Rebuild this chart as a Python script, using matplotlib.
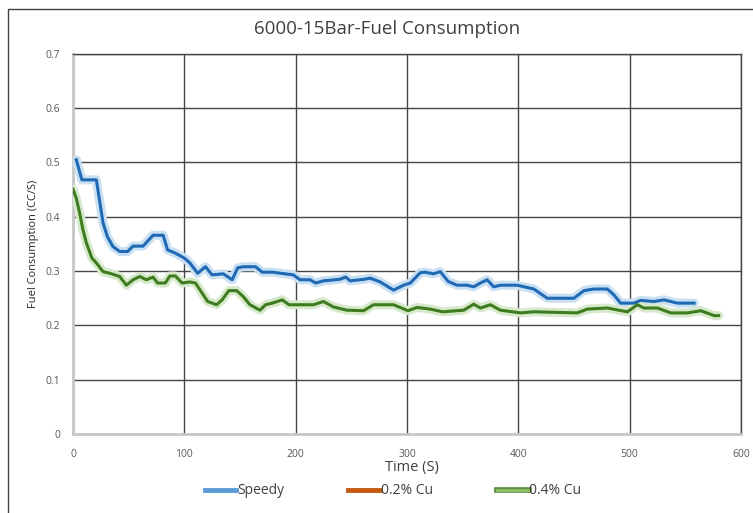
import matplotlib.pyplot as plt
import matplotlib.patheffects as pe
from matplotlib.patches import Rectangle
from matplotlib.lines import Line2D

plt.rcParams['font.family'] = ['Open Sans', 'DejaVu Sans']

# =========================
# DATA
# =========================
speedy_t = [3, 8, 21, 27, 31, 36, 42, 49, 54, 63, 72, 81, 85, 92, 100, 105, 112,
            119, 125, 135, 143, 148, 153, 164, 170, 179, 198, 204, 213, 218, 225,
            240, 245, 249, 262, 267, 276, 288, 297, 303, 312, 316, 324, 330, 337,
            345, 354, 360, 366, 372, 378, 384, 399, 414, 426, 450, 459, 468, 480,
            486, 492, 504, 510, 522, 531, 543, 558]
speedy_fc = [0.505, 0.468, 0.468, 0.389, 0.363, 0.345, 0.336, 0.336, 0.346, 0.346,
             0.366, 0.366, 0.339, 0.333, 0.324, 0.315, 0.296, 0.308, 0.293, 0.295,
             0.284, 0.306, 0.308, 0.308, 0.298, 0.298, 0.293, 0.284, 0.284, 0.278,
             0.282, 0.285, 0.289, 0.282, 0.285, 0.287, 0.280, 0.265, 0.274, 0.278,
             0.297, 0.298, 0.295, 0.299, 0.281, 0.274, 0.274, 0.271, 0.278, 0.284,
             0.271, 0.274, 0.274, 0.267, 0.250, 0.250, 0.264, 0.267, 0.267, 0.256,
             0.241, 0.241, 0.246, 0.244, 0.247, 0.241, 0.241]

cu02_t = []
cu02_fc = []

cu04_t = [0, 3, 6, 9, 12, 17, 21, 27, 33, 42, 48, 54, 60, 66, 72, 76, 83, 87, 92,
          98, 105, 110, 121, 129, 134, 140, 147, 153, 159, 168, 173, 179, 188, 194,
          216, 225, 234, 246, 261, 270, 288, 301, 309, 321, 332, 351, 360, 366, 375,
          384, 402, 414, 453, 462, 480, 498, 507, 513, 525, 537, 552, 564, 576, 580]
cu04_fc = [0.451, 0.434, 0.407, 0.376, 0.352, 0.324, 0.315, 0.299, 0.296, 0.290,
           0.274, 0.284, 0.290, 0.284, 0.289, 0.278, 0.278, 0.291, 0.291, 0.278,
           0.280, 0.278, 0.244, 0.238, 0.247, 0.264, 0.264, 0.253, 0.238, 0.228,
           0.238, 0.241, 0.247, 0.238, 0.238, 0.244, 0.234, 0.228, 0.227, 0.238,
           0.238, 0.227, 0.233, 0.230, 0.225, 0.228, 0.239, 0.232, 0.238, 0.228,
           0.223, 0.225, 0.223, 0.230, 0.232, 0.225, 0.238, 0.232, 0.232, 0.223,
           0.223, 0.227, 0.218, 0.218]

x_ticks = [0, 100, 200, 300, 400, 500, 600]
y_ticks = [0, 0.1, 0.2, 0.3, 0.4, 0.5, 0.6, 0.7]
y_labels = ['0', '0.1', '0.2', '0.3', '0.4', '0.5', '0.6', '0.7']

# =========================
# FIGURE
# =========================
fig = plt.figure(figsize=(7.53, 5.13), dpi=100)
ax = fig.add_axes([0.0969, 0.154, 0.887, 0.741])

# outer chart frame (runs off the right and bottom edges)
fig.patches.append(Rectangle((8 / 753, -0.2), 1.2, 1.2 - 9 / 513,
                             transform=fig.transFigure, fill=False,
                             edgecolor='#404040', lw=1.0))

# glow + line, Excel style
ax.plot(speedy_t, speedy_fc, color='#c9dff2', lw=6.5, solid_capstyle='round', zorder=3)
ax.plot(speedy_t, speedy_fc, color='#1f69b5', lw=2.2, zorder=4)
ax.plot(cu02_t, cu02_fc, color='#c55a11', lw=2.2, zorder=4)
ax.plot(cu04_t, cu04_fc, color='#d6eacb', lw=6.5, solid_capstyle='round', zorder=3)
ax.plot(cu04_t, cu04_fc, color='#3f7b1f', lw=2.2, zorder=4)

ax.set_xlim(0, 600)
ax.set_ylim(0, 0.7)
ax.set_xticks(x_ticks)
ax.set_yticks(y_ticks)
ax.set_yticklabels(y_labels)
ax.grid(True, color='#454545', lw=1.0, zorder=1)
ax.set_axisbelow(True)
ax.tick_params(axis='y', length=0, labelsize=7.5, colors='#595959', pad=9)
ax.tick_params(axis='x', length=0, labelsize=7.5, colors='#595959', pad=11)

for side in ['top', 'right']:
    ax.spines[side].set_color('#454545')
    ax.spines[side].set_linewidth(1.0)
for side in ['left', 'bottom']:
    ax.spines[side].set_color('#c8c8c8')
    ax.spines[side].set_linewidth(2.0)

fig.text(387 / 753, 1 - 29 / 513, "6000-15Bar-Fuel Consumption", fontsize=13.5,
         color='#404040', ha='center', va='center')
fig.text(412 / 753, 1 - 468 / 513, "Time (S)", fontsize=10.5,
         color='#404040', ha='center', va='center')
ax.set_ylabel("Fuel Consumption (CC/S)", fontsize=8, color='#262626', labelpad=5)

handles = [
    Line2D([], [], color='#5b9bd5', lw=3.5),
    Line2D([], [], color='#c55a11', lw=3.5),
    Line2D([], [], color='#8cc168', lw=2.5,
           path_effects=[pe.Stroke(linewidth=4, foreground='#4f7d30'), pe.Normal()]),
]

fig.legend(handles, ['Speedy', '0.2% Cu', '0.4% Cu'], loc='center',
           bbox_to_anchor=(0.522, 1 - 491 / 513), ncol=3, frameon=False,
           fontsize=10, handlelength=2.3, handletextpad=0.05, columnspacing=4.6,
           labelcolor='#404040')

fig.savefig("out.png", dpi=100)
